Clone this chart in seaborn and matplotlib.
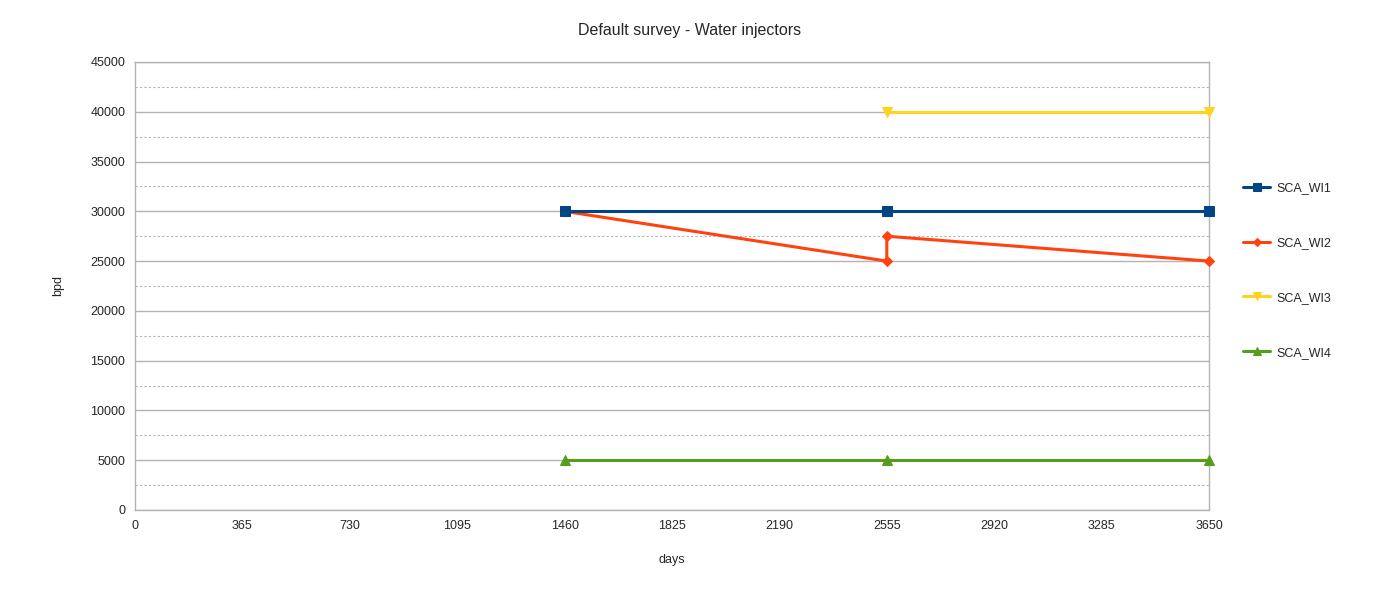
import matplotlib.pyplot as plt
import numpy as np
import pandas as pd
import seaborn as sns

# --- data ---
wi1_days = [1460, 2555, 3650]
wi1_rate = [30000, 30000, 30000]
wi2_days = [1460, 2555, 2555, 3650]
wi2_rate = [30000, 25000, 27500, 25000]
wi3_days = [2555, 3650]
wi3_rate = [40000, 40000]
wi4_days = [1460, 2555, 3650]
wi4_rate = [5000, 5000, 5000]

series_names = ["SCA_WI1", "SCA_WI2", "SCA_WI3", "SCA_WI4"]
x_ticks = [0, 365, 730, 1095, 1460, 1825, 2190, 2555, 2920, 3285, 3650]
y_ticks = [0, 5000, 10000, 15000, 20000, 25000, 30000, 35000, 40000, 45000]

frames = []
for name, d, r in zip(series_names,
                      [wi1_days, wi2_days, wi3_days, wi4_days],
                      [wi1_rate, wi2_rate, wi3_rate, wi4_rate]):
    frames.append(pd.DataFrame({"days": d, "bpd": r, "well": name}))
df = pd.concat(frames, ignore_index=True)

colors = {"SCA_WI1": "#004586", "SCA_WI2": "#ff420e", "SCA_WI3": "#ffd320", "SCA_WI4": "#579d1c"}
markers = {"SCA_WI1": "s", "SCA_WI2": "D", "SCA_WI3": "v", "SCA_WI4": "^"}
msizes = {"SCA_WI1": 7, "SCA_WI2": 5, "SCA_WI3": 7.5, "SCA_WI4": 7.5}
zorders = {"SCA_WI1": 5, "SCA_WI2": 4, "SCA_WI3": 3, "SCA_WI4": 3}

sns.set_style("white")
plt.rcParams['font.family'] = ['Liberation Sans', 'DejaVu Sans']

fig = plt.figure(figsize=(13.79, 5.95), dpi=100)
ax = fig.add_axes([135 / 1379, 1 - 510 / 595, (1209 - 135) / 1379, (510 - 62) / 595])

for name in series_names:
    sub = df[df["well"] == name]
    sns.lineplot(data=sub, x="days", y="bpd", ax=ax, sort=False, estimator=None,
                 color=colors[name], marker=markers[name], markersize=msizes[name],
                 markeredgecolor=colors[name], linewidth=2.2, label=name,
                 zorder=zorders[name], clip_on=False)

ax.set_xlim(0, 3650)
ax.set_ylim(0, 45000)
ax.set_xticks(x_ticks)
ax.set_yticks(y_ticks)
ax.set_yticks(np.array(y_ticks[:-1]) + 2500, minor=True)
ax.grid(True, which="major", axis="y", color="#b3b3b3", linewidth=1, linestyle="-")
ax.grid(True, which="minor", axis="y", color="#b3b3b3", linewidth=0.8, linestyle=(0, (2, 2)))
ax.set_axisbelow(True)
for s in ax.spines.values():
    s.set_color("#b3b3b3")
    s.set_linewidth(1)
ax.tick_params(axis="both", which="major", direction="out", length=4, color="#b3b3b3",
               labelsize=9, pad=3)
ax.tick_params(axis="y", which="minor", length=0)

ax.set_xlabel("days", fontsize=9, labelpad=16)
ax.set_ylabel("bpd", fontsize=9, labelpad=19)
fig.text(0.5, 1 - 30 / 595, "Default survey - Water injectors", ha="center", va="center", fontsize=11.5)

ax.legend(loc="center left", bbox_to_anchor=(1.0, 0.535), frameon=False, fontsize=9,
          labelspacing=3.43, handlelength=2.2, handletextpad=0.5, borderaxespad=2.3,
          markerscale=0.85)

fig.savefig("out.png", dpi=100)
